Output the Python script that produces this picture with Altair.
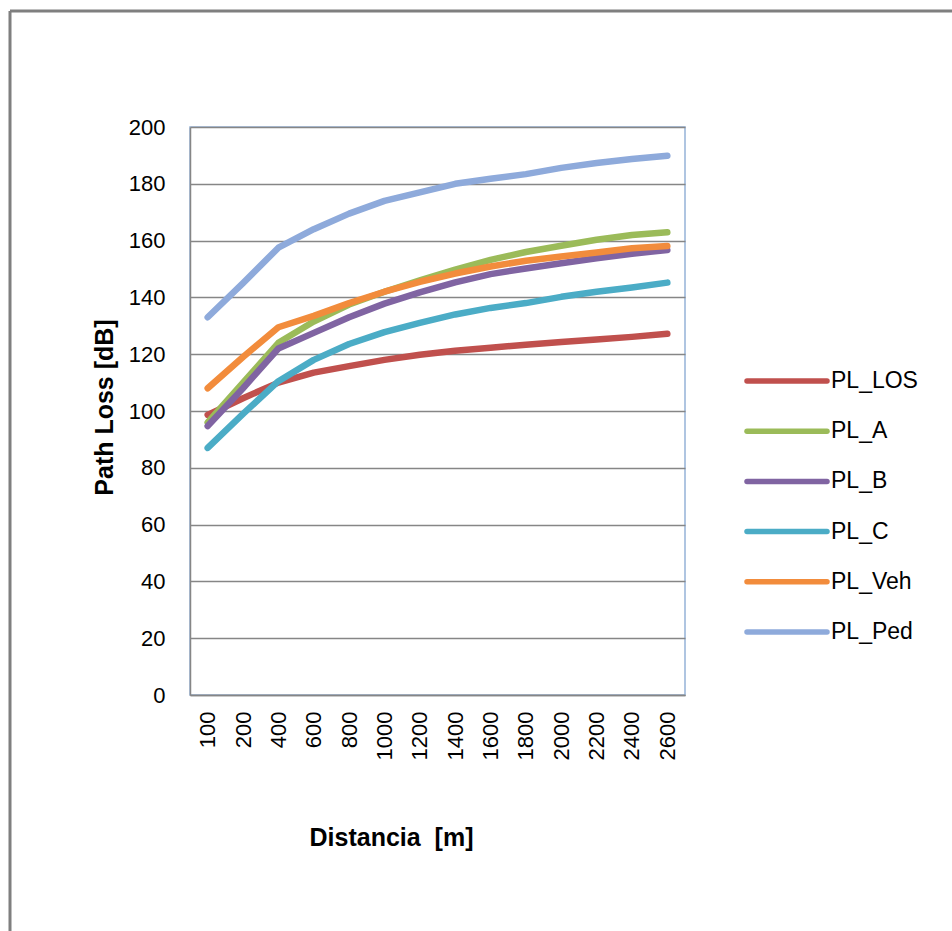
import altair as alt
import pandas as pd

distances = ["100", "200", "400", "600", "800", "1000", "1200", "1400",
             "1600", "1800", "2000", "2200", "2400", "2600"]

series_names = ["PL_LOS", "PL_A", "PL_B", "PL_C", "PL_Veh", "PL_Ped"]
series_colors = ["#C0504D", "#9BBB59", "#8064A2", "#4BACC6", "#F28C3C", "#8EAADB"]

pl_los = [98.6, 104.5, 110.0, 113.5, 115.8, 118.0, 119.8, 121.2, 122.3, 123.3, 124.3, 125.2, 126.1, 127.2]
pl_a   = [96.0, 110.0, 124.0, 131.5, 137.5, 142.0, 146.0, 149.8, 153.2, 156.0, 158.2, 160.3, 162.0, 162.9]
pl_b   = [94.7, 108.0, 122.0, 127.5, 133.0, 137.8, 141.8, 145.3, 148.2, 150.2, 152.0, 153.8, 155.4, 156.7]
pl_c   = [87.0, 99.0, 110.5, 118.0, 123.6, 127.8, 131.0, 134.0, 136.3, 138.0, 140.2, 142.0, 143.5, 145.2]
pl_veh = [108.0, 119.0, 129.5, 133.5, 138.0, 142.0, 145.5, 148.4, 150.9, 152.9, 154.4, 155.8, 157.3, 158.1]
pl_ped = [133.0, 145.0, 157.5, 164.0, 169.5, 174.0, 177.0, 180.0, 181.8, 183.4, 185.6, 187.3, 188.7, 189.9]

all_values = [pl_los, pl_a, pl_b, pl_c, pl_veh, pl_ped]

rows = []
for name, vals in zip(series_names, all_values):
    for d, v in zip(distances, vals):
        rows.append({"Distancia": d, "value": v, "series": name})
df = pd.DataFrame(rows)
legend_df = pd.DataFrame({"series": series_names})

FONT = "Liberation Sans"
color_scale = alt.Scale(domain=series_names, range=series_colors)

lines = alt.Chart(df).mark_line(strokeWidth=6.5, strokeCap="round", strokeJoin="round").encode(
    x=alt.X("Distancia:O", sort=distances,
            scale=alt.Scale(type="point", padding=0.5),
            axis=alt.Axis(title="Distancia\u00a0 [m]", labelAngle=270, labelAlign="right",
                          labelBaseline="middle", labelPadding=16, ticks=False,
                          labelFontSize=22, labelFont=FONT, labelColor="#000000",
                          domainColor="#868686", domainWidth=1.5,
                          titleFont=FONT, titleFontSize=25, titleFontWeight="bold",
                          titleColor="#000000", titlePadding=66, titleX=201,
                          titleAnchor="start", titleAlign="center", grid=False)),
    y=alt.Y("value:Q", scale=alt.Scale(domain=[0, 200], nice=False),
            axis=alt.Axis(title="Path Loss [dB]", values=list(range(0, 201, 20)),
                          labelFontSize=22, labelFont=FONT, labelColor="#000000",
                          labelPadding=25, ticks=False,
                          domainColor="#868686", domainWidth=1.5,
                          gridColor="#868686", gridWidth=1.5,
                          titleFont=FONT, titleFontSize=25, titleFontWeight="bold",
                          titleColor="#000000", titleAngle=270, titleX=-86, titleY=280,
                          titleAlign="center", titleBaseline="middle")),
    color=alt.Color("series:N", scale=color_scale, legend=None),
    order=alt.Order("series:N"),
    detail="series:N",
)

leg_y = alt.Y("series:N", scale=alt.Scale(type="point", domain=series_names,
                                          range=[254, 505], padding=0), axis=None)

legend_rules = alt.Chart(legend_df).mark_rule(strokeWidth=5.5, strokeCap="round").encode(
    x=alt.value(557), x2=alt.value(637), y=leg_y,
    color=alt.Color("series:N", scale=color_scale, legend=None),
)
legend_text = alt.Chart(legend_df).mark_text(align="left", baseline="middle",
                                             fontSize=23, font=FONT, color="#000000").encode(
    x=alt.value(641), y=leg_y, text="series:N",
)

frame_data = alt.Data(values=[{"k": 1}])
frame_top = alt.Chart(frame_data).mark_rule(color="#7F7F7F", strokeWidth=3).encode(
    x=alt.value(-180), x2=alt.value(800), y=alt.value(-116))
frame_left = alt.Chart(frame_data).mark_rule(color="#7F7F7F", strokeWidth=3).encode(
    x=alt.value(-180), y=alt.value(-116), y2=alt.value(820))

chart = alt.layer(frame_top, frame_left, lines, legend_rules, legend_text).resolve_scale(
    y="independent"
).properties(
    width=495, height=568,
    autosize=alt.AutoSizeParams(type="none"),
    padding={"left": 190, "top": 127, "right": 267, "bottom": 236},
    background="white",
).configure_view(stroke="#95B3D7", strokeWidth=1.5)

chart.save("out.html", embed_options={"renderer": "svg", "actions": False})
